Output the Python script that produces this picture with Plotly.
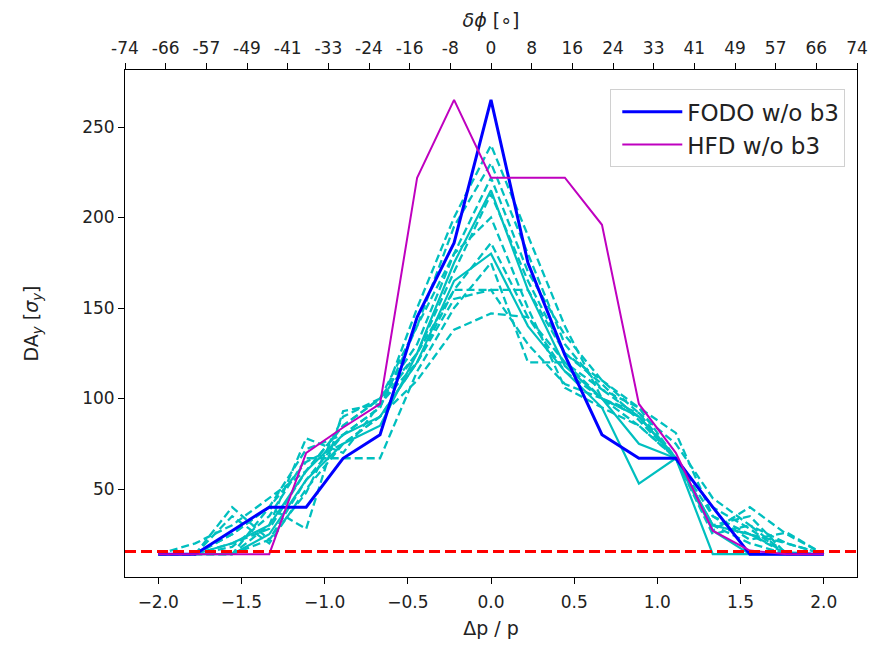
import numpy as np
import plotly.graph_objects as go

# ---- data ----
dp = [-2.0, -1.778, -1.556, -1.333, -1.111, -0.889, -0.667, -0.444, -0.222, 0.0,
      0.222, 0.444, 0.667, 0.889, 1.111, 1.333, 1.556, 1.778, 2.0]

fodo = [14, 14, 27, 40, 40, 67, 80, 145, 186, 265, 175, 124, 80, 67, 67, 40, 14, 14, 14]
hfd = [14, 14, 14, 14, 70, 84, 97, 222, 265, 222, 222, 222, 196, 97, 70, 27, 16, 14, 14]

cyan_dashed = [
    [14, 14, 14, 22, 55, 80, 95, 150, 200, 240, 190, 140, 100, 85, 67, 30, 20, 14, 14],
    [14, 14, 20, 28, 60, 85, 100, 140, 195, 230, 180, 130, 105, 90, 67, 35, 25, 14, 14],
    [14, 14, 40, 22, 48, 90, 100, 130, 180, 222, 170, 135, 110, 92, 67, 27, 40, 25, 14],
    [14, 14, 25, 40, 28, 93, 97, 125, 170, 213, 165, 125, 108, 88, 67, 25, 30, 14, 14],
    [14, 14, 14, 30, 78, 70, 97, 120, 160, 186, 145, 120, 105, 95, 81, 35, 22, 26, 14],
    [14, 14, 18, 35, 67, 67, 67, 115, 150, 175, 120, 120, 100, 90, 67, 30, 25, 20, 14],
    [14, 20, 30, 45, 60, 85, 100, 125, 160, 160, 160, 125, 110, 95, 67, 40, 28, 14, 14],
    [14, 14, 25, 40, 65, 75, 90, 110, 138, 147, 145, 115, 100, 92, 75, 45, 30, 20, 14],
    [14, 14, 14, 40, 72, 80, 95, 140, 180, 200, 150, 106, 95, 85, 67, 30, 35, 14, 14],
    [14, 14, 35, 20, 50, 75, 90, 120, 155, 160, 130, 108, 100, 90, 67, 30, 25, 15, 14],
]
cyan_solid = [
    [14, 14, 20, 30, 60, 80, 90, 120, 165, 180, 140, 115, 95, 53, 67, 14, 14, 14, 14],
    [14, 14, 14, 25, 55, 75, 85, 125, 175, 215, 160, 118, 100, 75, 67, 27, 14, 14, 14],
]

threshold = 15.5

phase_labels = ["-74", "-66", "-57", "-49", "-41", "-33", "-24", "-16", "-8", "0",
                "8", "16", "24", "33", "41", "49", "57", "66", "74"]

bottom_ticks = [-2, -1.5, -1, -0.5, 0, 0.5, 1, 1.5, 2]
bottom_labels = ["−2.0", "−1.5", "−1.0", "−0.5", "0.0", "0.5", "1.0", "1.5", "2.0"]
y_ticks = [50, 100, 150, 200, 250]

x_range = [-2.2, 2.2]
y_range = [1.4, 281.5]

CYAN = "#00bfbf"
FONT = "DejaVu Sans"
TXT = "#222"

fig = go.Figure()

for ys in cyan_dashed:
    fig.add_trace(go.Scatter(x=dp, y=ys, mode="lines", showlegend=False, hoverinfo="skip",
                             line=dict(color=CYAN, width=2.3, dash="8px,4px")))
for ys in cyan_solid:
    fig.add_trace(go.Scatter(x=dp, y=ys, mode="lines", showlegend=False, hoverinfo="skip",
                             line=dict(color=CYAN, width=2.2)))

fig.add_trace(go.Scatter(x=dp, y=fodo, mode="lines", name="FODO w/o b3",
                         line=dict(color="#0000ff", width=3)))
fig.add_trace(go.Scatter(x=dp, y=hfd, mode="lines", name="HFD w/o b3",
                         line=dict(color="#bf00bf", width=2)))

# dummy trace to activate the top axis
fig.add_trace(go.Scatter(x=x_range, y=[None, None], xaxis="x2", mode="lines",
                         showlegend=False, hoverinfo="skip"))

fig.add_hline(y=threshold, line=dict(color="#ff0000", width=3, dash="11px,5px"), layer="above")

top_ticks = list(np.linspace(x_range[0], x_range[1], len(phase_labels)))

axis_common = dict(showgrid=False, zeroline=False, ticks="outside", ticklen=6, tickwidth=1,
                   tickcolor="black", linecolor="black", linewidth=1,
                   tickfont=dict(family=FONT, size=17, color=TXT))

fig.update_layout(
    width=889, height=649,
    margin=dict(l=125, r=32, t=70, b=72),
    paper_bgcolor="white", plot_bgcolor="white",
    xaxis=dict(range=x_range, tickvals=bottom_ticks, ticktext=bottom_labels,
               showline=True, mirror=True, ticklabelstandoff=4,
               title=dict(text="Δp / p", font=dict(family=FONT, size=19, color=TXT), standoff=10),
               **axis_common),
    xaxis2=dict(range=x_range, overlaying="x", side="top", tickvals=top_ticks,
                ticktext=phase_labels, showline=False, ticklabelstandoff=2,
                title=dict(text="<i>δϕ</i> [∘]", font=dict(family=FONT, size=19, color=TXT), standoff=5),
                **axis_common),
    yaxis=dict(range=y_range, tickvals=y_ticks, showline=True, mirror=True,
               title=dict(text="DA<sub><i>y</i></sub> [<i>σ</i><sub><i>y</i></sub>]",
                          font=dict(family=FONT, size=19, color=TXT), standoff=38),
               **axis_common),
    legend=dict(x=0.984, y=0.962, xanchor="right", yanchor="top",
                bgcolor="rgba(255,255,255,0.85)", bordercolor="#d0d0d0", borderwidth=1,
                itemwidth=60, indentation=6,
                font=dict(family=FONT, size=23, color=TXT)),
)

fig.write_html("out.html")
